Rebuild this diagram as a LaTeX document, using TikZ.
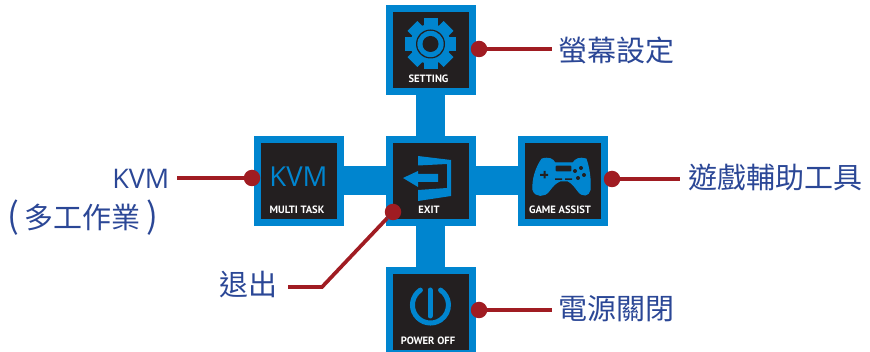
\documentclass[tikz,border=0pt]{standalone}
\usepackage{fontspec}
\setmainfont{Open Sans}
\newfontfamily\cjk{Noto Sans CJK TC}
\newfontfamily\osdfont{PT Sans}
\usetikzlibrary{calc}
\usetikzlibrary{positioning}
\definecolor{osdblue}{HTML}{0085CF}
\definecolor{osddark}{HTML}{231F20}
\definecolor{osdred}{HTML}{A01C22}
\definecolor{osdtext}{HTML}{2B4796}

\begin{document}
\begin{tikzpicture}[
x=1pt,y=-1pt,
MenuBox/.style={draw=osdblue,line width=7pt,fill=osddark,minimum size=83pt,inner sep=0pt,outer sep=0pt},
MenuText/.style={text=white,font=\osdfont\fontsize{10.6}{11}\selectfont\bfseries,inner sep=0pt},
Dots/.style={circle,fill=osdred,minimum size=16.5pt,inner sep=0pt},
Leader/.style={draw=osdred,line width=3.7pt},
Labels/.style={text=osdtext,font=\cjk\fontsize{29}{30}\selectfont,inner sep=0pt},
Icon/.style={fill=osdblue,draw=none}
]
\useasboundingbox (0,0) rectangle (870,352);

% bars behind the boxes
\fill[osdblue] (416,90) rectangle (445,272);
\fill[osdblue] (340,166) rectangle (522,195);

\node[MenuBox] (setting) at (431,50) {};
\node[MenuBox] (kvm) at (299,181) {};
\node[MenuBox] (exit) at (431,181) {};
\node[MenuBox] (assist) at (563,181) {};
\node[MenuBox] (power) at (431,312) {};

\node[MenuText] (settingtext) at (428.5,78.5) {SETTING};
\node[MenuText] (kvmtext) at (297,209.5) {MULTI TASK};
\node[MenuText] (exittext) at (429,209.5) {EXIT};
\node[MenuText] (assisttext) at (560,209.5) {GAME ASSIST};
\node[MenuText] (powertext) at (428,340.5) {POWER OFF};

% gear
\foreach \a in {0,45,...,315}
  \fill[Icon,shift={(430.5,44)},rotate=\a] (-7,-25.5) rectangle (7,-15);
\fill[Icon] (430.5,44) circle (20pt);
\fill[osddark] (430.5,44) circle (14.5pt);
\fill[Icon] (430.5,44) circle (13.2pt);
\fill[osddark] (430.5,44) circle (8pt);

% KVM
\node[text=osdblue,font=\fontsize{27.5}{28}\selectfont,inner sep=0pt] (kvmicon) at (298.5,177) {KVM};

% exit
\fill[Icon] (418,156) -- (451,160) -- (451,196) -- (418,201) -- (418,190) -- (447,188) -- (447,164) -- (418,165.5) -- cycle;
\fill[Icon] (403,178) -- (418,171) -- (418,174) -- (438,174) -- (438,182) -- (418,182) -- (418,187) -- cycle;

% gamepad
\fill[Icon,draw=osdblue,line width=1pt] (542,159) .. controls (549,157) and (553,159) .. (555,163) -- (573,163) .. controls (575,159) and (580,157) .. (586,159) .. controls (589,167) and (591,180) .. (590,190) .. controls (589,196) and (582,197) .. (578,191) .. controls (575,187) and (572,183) .. (568,181) -- (560,181) .. controls (555,183) and (552,187) .. (549,191) .. controls (545,197) and (535,197) .. (533,190) .. controls (532,180) and (536,167) .. (542,159) -- cycle;
\fill[osddark] (555,165) rectangle (572,172);
\draw[osdblue,line width=1.2pt,rounded corners=1pt] (555,165) rectangle (572,172);
\fill[osddark] (543.5,171) rectangle (545.5,178.5) (540,173.8) rectangle (548,175.8);
\fill[osddark] (555,178.4) rectangle (562,179.8) (565,178.4) rectangle (572,179.8);
\foreach \px/\py in {581/168,575/171,584/175,578/178}
  \fill[osddark] (\px,\py) circle (2pt);

% power
\draw[osdblue,line width=5pt,line cap=round] (420.4,290.1) arc (124:416:18pt);
\draw[osdblue,line width=5pt,line cap=round] (430,290) -- (430,316);

% dots
\node[Dots] (dotsetting) at (479,49) {};
\node[Dots] (dotkvm) at (252,178) {};
\node[Dots] (dotexit) at (393,212) {};
\node[Dots] (dotassist) at (612,179) {};
\node[Dots] (dotpower) at (479,310) {};

\node[Labels,anchor=west] (lblsetting) at (558.5,50) {螢幕設定};
\node[Labels,anchor=west] (lblassist) at (688,177) {遊戲輔助工具};
\node[Labels,anchor=east,font=\fontsize{27}{30}\selectfont] (lblkvm) at (169.5,179) {KVM};
\node[Labels,anchor=east] (lblmulti) at (159,218) {{\fontsize{35}{35}\selectfont(}\hspace{6pt}多工作業\hspace{6pt}{\fontsize{35}{35}\selectfont)}};
\node[Labels,anchor=east] (lblexit) at (278,285) {退出};
\node[Labels,anchor=west] (lblpower) at (558.5,309) {電源關閉};

\coordinate (endsetting) at (552,49);
\coordinate (endassist) at (680,179);
\coordinate (endkvm) at (177,178);
\coordinate (endexit) at (288,287);
\coordinate (bendexit) at (322,287);
\coordinate (endpower) at (552,310);

\draw[Leader] (dotsetting)--(endsetting);
\draw[Leader] (dotassist)--(endassist);
\draw[Leader] (dotkvm)--(endkvm);
\draw[Leader] (dotexit)--(bendexit)--(endexit);
\draw[Leader] (dotpower)--(endpower);

\end{tikzpicture}
\end{document}
